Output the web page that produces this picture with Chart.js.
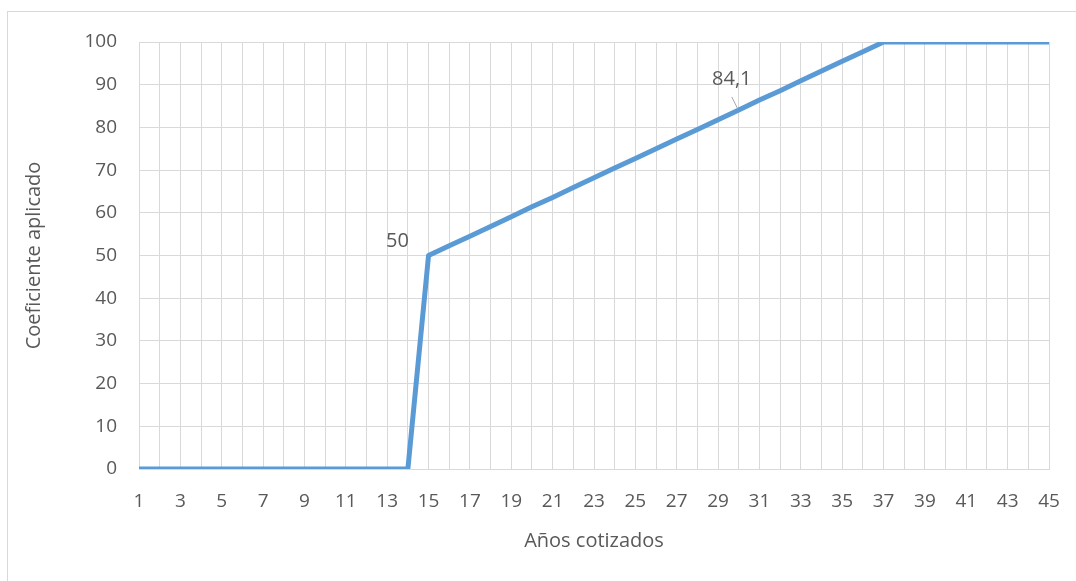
<!DOCTYPE html>
<html>
<head>
<meta charset="utf-8">
<script src="https://cdn.jsdelivr.net/npm/chart.js@4/dist/chart.umd.min.js"></script>
<style>
  html, body { margin: 0; padding: 0; background: #fff; overflow: hidden; }
  #wrap { position: relative; width: 1076px; height: 581px; }
  #frame { position: absolute; left: 7px; top: 11px; width: 1100px; height: 600px; border: 1px solid #d9d9d9; box-sizing: border-box; }
  canvas { position: absolute; left: 0; top: 0; }
</style>
</head>
<body>
<div id="wrap">
  <div id="frame"></div>
  <canvas id="chart" width="1076" height="581"></canvas>
</div>
<script>
const years = [1, 2, 3, 4, 5, 6, 7, 8, 9, 10, 11, 12, 13, 14, 15, 16, 17, 18, 19, 20, 21, 22, 23,
  24, 25, 26, 27, 28, 29, 30, 31, 32, 33, 34, 35, 36, 37, 38, 39, 40, 41, 42, 43, 44, 45];
const coeficiente = [0, 0, 0, 0, 0, 0, 0, 0, 0, 0, 0, 0, 0, 0, 50, 52.3, 54.5, 56.8, 59.1, 61.4,
  63.6, 65.9, 68.2, 70.5, 72.7, 75.0, 77.3, 79.5, 81.8, 84.1, 86.4, 88.6, 90.9, 93.2, 95.5, 97.7,
  100, 100, 100, 100, 100, 100, 100, 100, 100];
const yTicks = [0, 10, 20, 30, 40, 50, 60, 70, 80, 90, 100];
// labelled points: year -> text
const labelYears = [15, 30];
const labelTexts = ["50", "84,1"];

const textColor = "#595959";
const gridColor = "#d9d9d9";
const fontFamily = "'Open Sans', sans-serif";

const pointLabels = {
  id: "pointLabels",
  afterDatasetsDraw(chart) {
    const ctx = chart.ctx;
    const meta = chart.getDatasetMeta(0);
    ctx.save();
    ctx.font = "20px " + fontFamily;
    ctx.fillStyle = textColor;
    ctx.textAlign = "center";
    ctx.textBaseline = "middle";
    labelYears.forEach((yr, i) => {
      const pt = meta.data[years.indexOf(yr)];
      if (i === 0) {
        ctx.fillText(labelTexts[i], pt.x - 31, pt.y - 14);
      } else {
        ctx.fillText(labelTexts[i], pt.x - 7, pt.y - 31);
        ctx.strokeStyle = "#a6a6a6";
        ctx.lineWidth = 1;
        ctx.beginPath();
        ctx.moveTo(pt.x - 7, pt.y - 13);
        ctx.lineTo(pt.x - 1, pt.y - 1);
        ctx.stroke();
      }
    });
    ctx.restore();
  }
};

const ctx = document.getElementById("chart").getContext("2d");
new Chart(ctx, {
  type: "line",
  data: {
    labels: years,
    datasets: [{
      data: coeficiente,
      borderColor: "#5b9bd5",
      borderWidth: 5,
      pointRadius: 0,
      tension: 0,
      borderJoinStyle: "round",
      borderCapStyle: "butt",
      fill: false
    }]
  },
  options: {
    responsive: false,
    animation: false,
    layout: { padding: { left: 8, right: 27, top: 42, bottom: 0 } },
    plugins: { legend: { display: false }, tooltip: { enabled: false } },
    scales: {
      x: {
        offset: false,
        grid: { color: gridColor, drawTicks: false },
        border: { color: gridColor },
        ticks: {
          autoSkip: false,
          maxRotation: 0,
          padding: 21,
          color: textColor,
          font: { family: fontFamily, size: 19 },
          callback: (v, i) => (i % 2 === 0 ? String(years[i]) : "")
        },
        title: {
          display: true,
          text: "Años cotizados",
          color: textColor,
          font: { family: fontFamily, size: 20 },
          padding: { top: 0, bottom: 28 }
        },
        afterFit: (axis) => {
          axis.height = 112;
          axis.paddingLeft = 0;
          axis.paddingRight = 0;
        }
      },
      y: {
        min: 0,
        max: 100,
        afterBuildTicks: (axis) => { axis.ticks = yTicks.map(v => ({ value: v })); },
        grid: { color: gridColor, drawTicks: false },
        border: { display: false },
        ticks: {
          padding: 22,
          color: textColor,
          font: { family: fontFamily, size: 19 }
        },
        title: {
          display: true,
          text: "Coeficiente aplicado",
          color: textColor,
          font: { family: fontFamily, size: 20 },
          padding: { top: 14, bottom: 0 }
        },
        afterFit: (axis) => {
          axis.width = 131;
          axis.paddingTop = 0;
          axis.paddingBottom = 0;
        }
      }
    }
  },
  plugins: [pointLabels]
});
</script>
</body>
</html>
